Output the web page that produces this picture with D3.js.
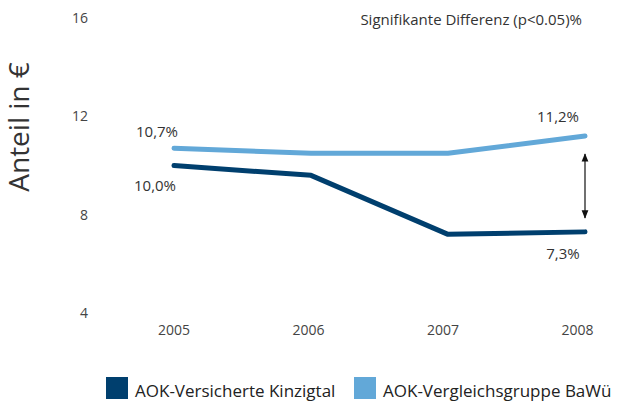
<!DOCTYPE html>
<html lang="de">
<head>
<meta charset="UTF-8">
<title>Anteil in €</title>
<script src="https://d3js.org/d3.v7.min.js"></script>
<style>
  body { margin: 0; background: #fff; }
  text { font-family: "Open Sans", "Noto Sans", sans-serif; }
</style>
</head>
<body>
<script>
  // Daten
  const years = ["2005", "2006", "2007", "2008"];
  const kinzigtal = [10.0, 9.6, 7.2, 7.3];
  const bawue = [10.7, 10.5, 10.5, 11.2];
  const yTicks = [4, 8, 12, 16];
  const seriesNames = ["AOK-Versicherte Kinzigtal", "AOK-Vergleichsgruppe BaWü"];
  const colors = ["#003f6e", "#62a8d8"];

  const width = 629, height = 406;
  const svg = d3.select("body").append("svg")
    .attr("width", width)
    .attr("height", height);

  const x = d3.scalePoint().domain(years).range([174, 585]);
  const y = d3.scaleLinear().domain([4, 16]).range([313, 18]);

  // y-Achse (nur Beschriftung)
  svg.append("g").selectAll("text")
    .data(yTicks).enter().append("text")
    .attr("x", 88)
    .attr("y", d => y(d))
    .attr("dy", "0.35em")
    .attr("text-anchor", "end")
    .attr("font-size", 14)
    .attr("fill", "#444")
    .text(d => d);

  // x-Achse
  svg.append("g").selectAll("text")
    .data(years).enter().append("text")
    .attr("x", (d, i) => x(d) - i * 2.5)
    .attr("y", 330)
    .attr("dy", "0.35em")
    .attr("text-anchor", "middle")
    .attr("font-size", 14)
    .attr("fill", "#444")
    .text(d => d);

  // Achsentitel
  svg.append("text")
    .attr("transform", "translate(29,127) rotate(-90)")
    .attr("text-anchor", "middle")
    .attr("font-size", 28)
    .attr("fill", "#333")
    .text("Anteil in €");

  svg.append("text")
    .attr("x", 582)
    .attr("y", 20)
    .attr("dy", "0.35em")
    .attr("text-anchor", "end")
    .attr("font-size", 15)
    .attr("fill", "#333")
    .text("Signifikante Differenz (p<0.05)%");

  // Linien
  const line = d3.line()
    .x((d, i) => x(years[i]))
    .y(d => y(d));

  [kinzigtal, bawue].forEach((s, k) => {
    svg.append("path")
      .attr("d", line(s))
      .attr("fill", "none")
      .attr("stroke", colors[k])
      .attr("stroke-width", 5)
      .attr("stroke-linecap", "round")
      .attr("stroke-linejoin", "round");
  });

  // Wertebeschriftungen
  const fmt = v => d3.format(".1f")(v).replace(".", ",") + "%";
  const labels = [
    { v: bawue[0], x: x(years[0]) - 17, y: y(bawue[0]) - 17 },
    { v: kinzigtal[0], x: x(years[0]) - 19, y: y(kinzigtal[0]) + 20 },
    { v: bawue[3], x: x(years[3]) - 27, y: y(bawue[3]) - 19 },
    { v: kinzigtal[3], x: x(years[3]) - 22, y: y(kinzigtal[3]) + 22 }
  ];
  svg.append("g").selectAll("text")
    .data(labels).enter().append("text")
    .attr("x", d => d.x)
    .attr("y", d => d.y)
    .attr("dy", "0.35em")
    .attr("text-anchor", "middle")
    .attr("font-size", 15)
    .attr("fill", "#333")
    .text(d => fmt(d.v));

  // Doppelpfeil
  svg.append("defs").append("marker")
    .attr("id", "ah")
    .attr("viewBox", "0 0 10 10")
    .attr("refX", 9).attr("refY", 5)
    .attr("markerWidth", 7).attr("markerHeight", 7)
    .attr("orient", "auto-start-reverse")
    .append("path")
    .attr("d", "M0,1 L10,5 L0,9 Z")
    .attr("fill", "#111");

  svg.append("line")
    .attr("x1", x(years[3])).attr("x2", x(years[3]))
    .attr("y1", y(bawue[3]) + 18)
    .attr("y2", y(kinzigtal[3]) - 14)
    .attr("stroke", "#111")
    .attr("stroke-width", 1.2)
    .attr("marker-start", "url(#ah)")
    .attr("marker-end", "url(#ah)");

  // Legende
  const legX = [106, 354];
  const leg = svg.append("g").selectAll("g")
    .data(seriesNames).enter().append("g")
    .attr("transform", (d, i) => "translate(" + legX[i] + ",377)");
  leg.append("rect")
    .attr("width", 22).attr("height", 22)
    .attr("fill", (d, i) => colors[i]);
  leg.append("text")
    .attr("x", 29)
    .attr("y", 20)
    .attr("font-size", 17)
    .attr("fill", "#222")
    .text(d => d);
</script>
</body>
</html>
